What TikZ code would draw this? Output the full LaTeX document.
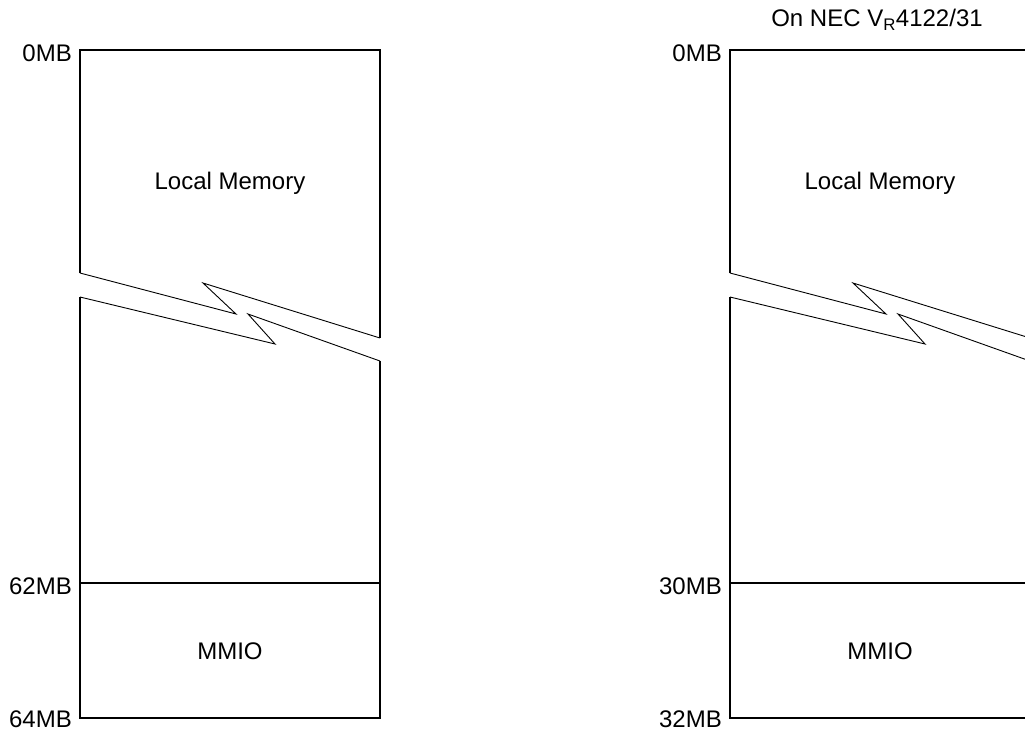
\documentclass[tikz,border=0pt]{standalone}
\usepackage{fontspec}
\setmainfont{Liberation Sans}
\begin{document}
\begin{tikzpicture}[x=1pt,y=-1pt,
		edge/.style={line width=1.4pt},
		brk/.style={line width=0.9pt},
		lbl/.style={font=\fontsize{24}{28}\selectfont, inner sep=0pt}]
		% Page frame (the right map runs past the border)
		\clip (0,0) rectangle (1025,732);
		
		\foreach \dx/\mid/\low/\m in {0/62MB/64MB/L, 650/30MB/32MB/R}{
			\begin{scope}[xshift=\dx]
				% Corners of the memory map
				\coordinate (\m tl) at (80,50);
				\coordinate (\m tr) at (380,50);
				\coordinate (\m bl) at (80,718);
				\coordinate (\m br) at (380,718);
				\coordinate (\m ml) at (80,583);
				\coordinate (\m mr) at (380,583);
				
				% Break: end of the upper part
				\coordinate (\m ua) at (80,273);
				\coordinate (\m ub) at (236,314);
				\coordinate (\m uc) at (203,283);
				\coordinate (\m ud) at (380,338);
				
				% Break: start of the lower part
				\coordinate (\m la) at (80,297);
				\coordinate (\m lb) at (275,344);
				\coordinate (\m lc) at (248,314);
				\coordinate (\m ld) at (380,361);
				
				% Draw the outline
				\draw[edge] (\m ua) -- (\m tl) -- (\m tr) -- (\m ud);
				\draw[edge] (\m la) -- (\m bl) -- (\m br) -- (\m ld);
				\draw[edge] (\m ml) -- (\m mr);
				
				% Draw the zigzag break
				\draw[brk] (\m ua) -- (\m ub) -- (\m uc) -- (\m ud);
				\draw[brk] (\m la) -- (\m lb) -- (\m lc) -- (\m ld);
				
				% Labels
				\node[lbl] (\m local) at (230,183) {Local Memory};
				\node[lbl] (\m mmio) at (230,651) {MMIO};
				\node[lbl, anchor=east] (\m a0) at ([xshift=-8pt,yshift=-3pt]\m tl) {0MB};
				\node[lbl, anchor=east] (\m a1) at ([xshift=-8pt,yshift=-3pt]\m ml) {\mid};
				\node[lbl, anchor=east] (\m a2) at ([xshift=-8pt,yshift=-1pt]\m bl) {\low};
			\end{scope}
		}
		
		% Title of the right map
		\node[lbl] (title) at (877,20) {On NEC V\textsubscript{R}4122/31};
		
	\end{tikzpicture}
\end{document}
